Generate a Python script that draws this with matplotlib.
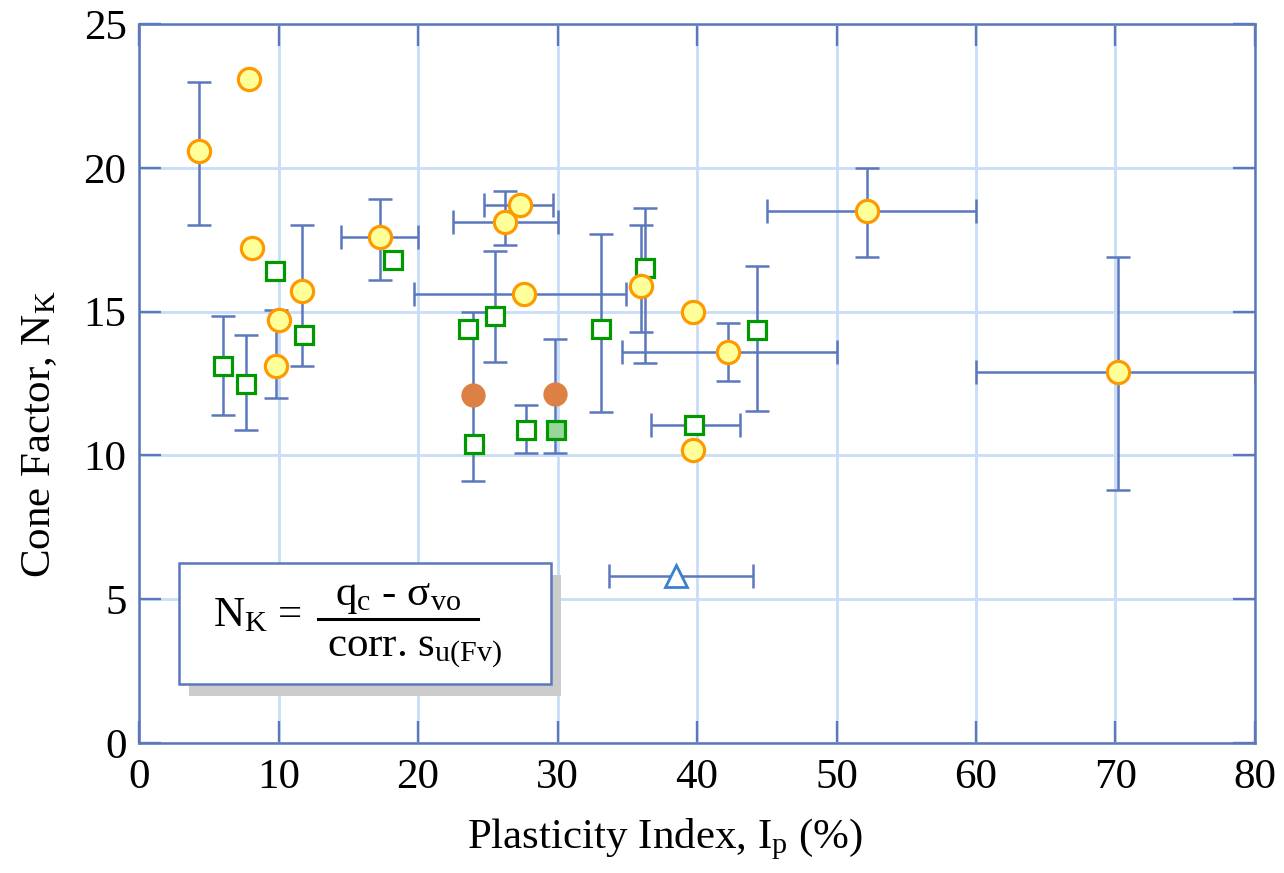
import matplotlib
matplotlib.use("Agg")
import matplotlib.pyplot as plt
from matplotlib.patches import Rectangle
from matplotlib.lines import Line2D

plt.rcParams['font.family'] = ['Liberation Serif', 'DejaVu Serif']
plt.rcParams['mathtext.fontset'] = 'custom'
plt.rcParams['mathtext.rm'] = 'Liberation Serif'
plt.rcParams['mathtext.it'] = 'Liberation Serif:italic'

# yellow circles (orange edge)
circ_x = [4.3, 7.9, 8.1, 17.3, 11.7, 10.0, 9.8, 26.2, 27.3, 27.6, 36.0, 39.7, 42.2, 39.7, 52.2, 70.2]
circ_y = [20.6, 23.1, 17.2, 17.6, 15.7, 14.7, 13.1, 18.1, 18.7, 15.6, 15.9, 15.0, 13.6, 10.2, 18.5, 12.9]
circ_ylo = [18.0, None, None, 16.1, 13.1, None, 12.0, 17.3, None, None, 14.3, None, 12.6, None, 16.9, 8.8]
circ_yhi = [23.0, None, None, 18.9, 18.0, None, 15.05, 19.2, None, None, 18.0, None, 14.6, None, 20.0, 16.9]
circ_xlo = [None, None, None, 14.5, None, None, None, 22.5, 24.7, 19.7, None, None, 34.6, None, 45.0, 60.0]
circ_xhi = [None, None, None, 20.0, None, None, None, 30.0, 29.7, 34.9, None, None, 50.0, None, 60.0, 80.0]

# open green squares
sq_x = [6.05, 7.7, 9.75, 11.8, 18.2, 23.6, 25.5, 24.0, 27.75, 33.1, 36.3, 39.8, 44.3]
sq_y = [13.1, 12.5, 16.4, 14.2, 16.8, 14.4, 14.85, 10.4, 10.9, 14.4, 16.5, 11.05, 14.35]
sq_ylo = [11.4, 10.9, None, None, None, None, 13.25, None, 10.1, 11.5, 13.2, None, 11.55]
sq_yhi = [14.85, 14.2, None, None, None, None, 17.1, None, 11.75, 17.7, 18.6, None, 16.6]
sq_xlo = [None, None, None, None, None, None, None, None, None, None, None, 36.7, None]
sq_xhi = [None, None, None, None, None, None, None, None, None, None, None, 43.1, None]

# filled green square
fsq_x = [29.9]
fsq_y = [10.9]

# filled orange circles
dot_x = [23.95, 29.85]
dot_y = [12.1, 12.15]
dot_ylo = [9.1, 10.1]
dot_yhi = [15.0, 14.05]

# open triangle
tri_x = [38.5]
tri_y = [5.8]
tri_xlo = [33.7]
tri_xhi = [44.0]

x_ticks = [0, 10, 20, 30, 40, 50, 60, 70, 80]
y_ticks = [0, 5, 10, 15, 20, 25]

BLUE = '#5b78bd'
GRID = '#c8ddf7'

fig = plt.figure(figsize=(12.84, 8.73), dpi=100)
ax = fig.add_axes([0.1083, 0.1489, 0.8691, 0.8236])


def draw_bars(xs, ys, ylo=None, yhi=None, xlo=None, xhi=None):
    n = len(xs)
    ylo = ylo or [None] * n
    yhi = yhi or [None] * n
    xlo = xlo or [None] * n
    xhi = xhi or [None] * n
    for x, y, a, b, c, d in zip(xs, ys, ylo, yhi, xlo, xhi):
        if a is not None:
            ax.errorbar(x, y, yerr=[[y - a], [b - y]], fmt='none', ecolor=BLUE,
                        elinewidth=1.8, capsize=8.6, capthick=1.8, zorder=3)
        if c is not None:
            ax.errorbar(x, y, xerr=[[x - c], [d - x]], fmt='none', ecolor=BLUE,
                        elinewidth=1.8, capsize=8.6, capthick=1.8, zorder=3)


draw_bars(circ_x, circ_y, circ_ylo, circ_yhi, circ_xlo, circ_xhi)
draw_bars(sq_x, sq_y, sq_ylo, sq_yhi, sq_xlo, sq_xhi)
draw_bars(dot_x, dot_y, dot_ylo, dot_yhi)
draw_bars(tri_x, tri_y, xlo=tri_xlo, xhi=tri_xhi)

ax.plot(sq_x, sq_y, 's', ms=13, mfc='white', mec='#009900', mew=2.3, ls='none', zorder=5)
ax.plot(fsq_x, fsq_y, 's', ms=13, mfc='#99d699', mec='#009900', mew=2.3, ls='none', zorder=5)
ax.plot(circ_x, circ_y, 'o', ms=16, mfc='#ffff99', mec='#ff9900', mew=2.3, ls='none', zorder=6)
ax.plot(dot_x, dot_y, 'o', ms=17.5, mfc='#dd8044', mec='none', ls='none', zorder=6)
ax.plot(tri_x, tri_y, '^', ms=16, mfc='white', mec='#3a80d0', mew=2.0, ls='none', zorder=6)

ax.set_xlim(0, 80)
ax.set_ylim(0, 25)
ax.set_xticks(x_ticks)
ax.set_yticks(y_ticks)
ax.grid(True, color=GRID, lw=2.0)
ax.set_axisbelow(True)
for s in ax.spines.values():
    s.set_color(BLUE)
    s.set_linewidth(1.8)
ax.tick_params(direction='in', length=16, width=1.7, color=BLUE, top=True, right=True,
               labelsize=31)
ax.tick_params(axis='x', pad=11)
ax.tick_params(axis='y', pad=9)

ax.set_xlabel('Plasticity Index, I$_\\mathrm{p}$ (%)', fontsize=31)
ax.set_ylabel('Cone Factor, N$_\\mathrm{K}$', fontsize=31)
ax.xaxis.set_label_coords(0.471, -0.103)
ax.yaxis.set_label_coords(-0.072, 0.43)

# formula box with shadow
ax.add_patch(Rectangle((0.045, 0.065), 0.333, 0.168, transform=ax.transAxes,
                       facecolor='#cccccc', edgecolor='none', zorder=7))
ax.add_patch(Rectangle((0.036, 0.082), 0.333, 0.168, transform=ax.transAxes,
                       facecolor='white', edgecolor=BLUE, lw=1.8, zorder=8))
ax.text(0.066, 0.163, 'N$_\\mathrm{K}$ =', transform=ax.transAxes, fontsize=31,
        ha='left', va='baseline', zorder=9)
ax.add_line(Line2D([0.160, 0.304], [0.172, 0.172], transform=ax.transAxes,
                   color='black', lw=2.2, zorder=9))
ax.text(0.232, 0.192, 'q$_\\mathrm{c}$ - σ$_\\mathrm{vo}$', transform=ax.transAxes,
        fontsize=31, ha='center', va='baseline', zorder=9)
ax.text(0.168, 0.121, 'corr. s$_\\mathrm{u(Fv)}$', transform=ax.transAxes,
        fontsize=31, ha='left', va='baseline', zorder=9)

fig.savefig('out.png', dpi=100)
